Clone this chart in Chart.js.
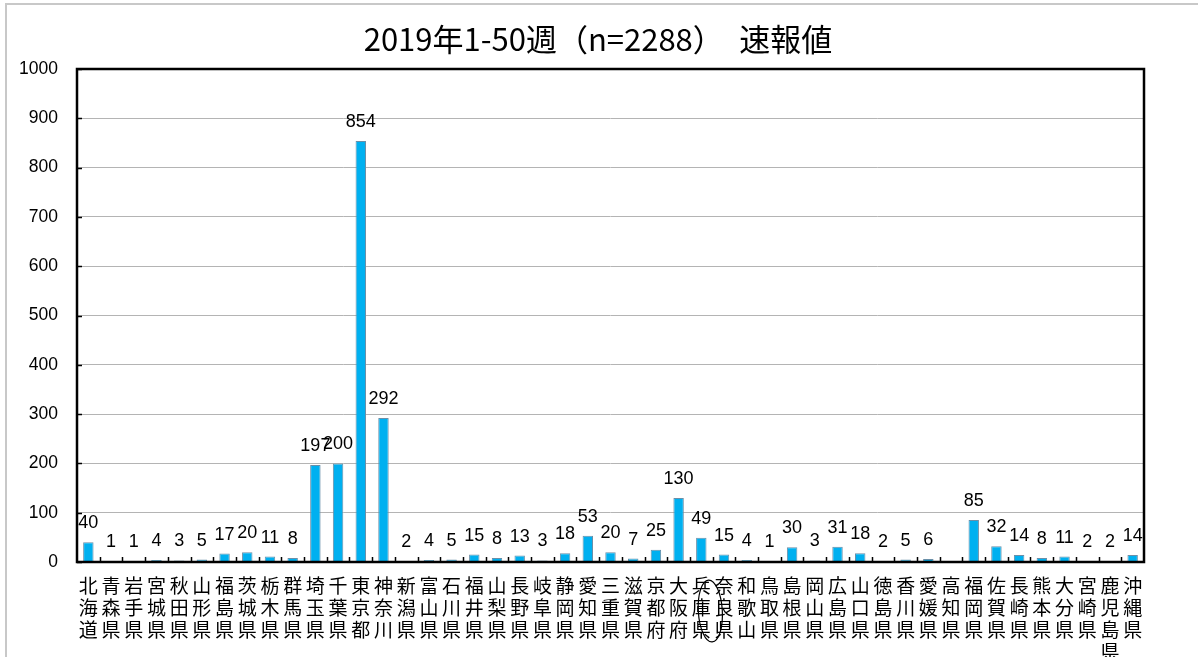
<!DOCTYPE html>
<html>
<head>
<meta charset="utf-8">
<script src="https://cdn.jsdelivr.net/npm/chart.js@4"></script>
<style>
  html, body { margin: 0; padding: 0; background: #fff; overflow: hidden; }
  #wrap { position: relative; width: 1198px; height: 657px; }
  #frame { position: absolute; left: 5px; top: 3px; width: 1300px; height: 800px;
           border-left: 2px solid #c8c8c8; border-top: 2px solid #c8c8c8; pointer-events: none; }
  canvas { position: absolute; left: 0; top: 0; }
</style>
</head>
<body>
<div id="wrap">
  <canvas id="c" width="1198" height="657"></canvas>
  <div id="frame"></div>
</div>
<script>
const chartTitle = '2019年1-50週（n=2288）　速報値';
const prefectures = [
  '北海道','青森県','岩手県','宮城県','秋田県','山形県','福島県','茨城県','栃木県','群馬県',
  '埼玉県','千葉県','東京都','神奈川','新潟県','富山県','石川県','福井県','山梨県','長野県',
  '岐阜県','静岡県','愛知県','三重県','滋賀県','京都府','大阪府','兵庫県','奈良県','和歌山',
  '鳥取県','島根県','岡山県','広島県','山口県','徳島県','香川県','愛媛県','高知県','福岡県',
  '佐賀県','長崎県','熊本県','大分県','宮崎県','鹿児島県','沖縄県'
];
const counts = [
  40, 1, 1, 4, 3, 5, 17, 20, 11, 8,
  197, 200, 854, 292, 2, 4, 5, 15, 8, 13,
  3, 18, 53, 20, 7, 25, 130, 49, 15, 4,
  1, 30, 3, 31, 18, 2, 5, 6, 0, 85,
  32, 14, 8, 11, 2, 2, 14
];
const yMin = 0, yMax = 1000, yStep = 100;
const circledPrefecture = '兵庫県';

const verticalLabels = prefectures.map(p => p.split(''));

const decor = {
  id: 'decor',
  afterDraw(chart) {
    const ctx = chart.ctx;
    const a = chart.chartArea;
    const x = chart.scales.x, y = chart.scales.y;
    ctx.save();
    // title
    ctx.fillStyle = '#000';
    ctx.font = '31px "Noto Sans CJK JP"';
    ctx.textAlign = 'center';
    ctx.textBaseline = 'middle';
    ctx.fillText(chartTitle, 598, 39);
    // data labels
    ctx.font = '18px "Liberation Sans"';
    ctx.textBaseline = 'middle';
    const meta = chart.getDatasetMeta(0);
    meta.data.forEach((bar, i) => {
      if (counts[i] === 0) return;
      ctx.fillText(String(counts[i]), bar.x, bar.y - 19);
    });
    // inward ticks
    ctx.strokeStyle = '#000';
    ctx.lineWidth = 1.5;
    ctx.beginPath();
    for (let v = yMin; v <= yMax; v += yStep) {
      const py = Math.round(y.getPixelForValue(v)) + 0.5;
      ctx.moveTo(a.left, py); ctx.lineTo(a.left + 5, py);
    }
    const step = (a.right - a.left) / prefectures.length;
    for (let i = 1; i < prefectures.length; i++) {
      const px = Math.round(a.left + i * step) + 0.5;
      ctx.moveTo(px, a.bottom); ctx.lineTo(px, a.bottom - 5);
    }
    ctx.stroke();
    // frame
    ctx.lineWidth = 2.5;
    ctx.strokeRect(a.left, a.top, a.right - a.left, a.bottom - a.top);
    // hand-drawn ellipse annotation
    const ci = prefectures.indexOf(circledPrefecture);
    const cx = x.getPixelForValue(ci) + 9;
    ctx.lineWidth = 1.2;
    ctx.beginPath();
    ctx.ellipse(cx, 611, 12, 31, -0.06, 0, Math.PI * 2);
    ctx.stroke();
    ctx.restore();
  }
};

new Chart(document.getElementById('c'), {
  type: 'bar',
  data: {
    labels: verticalLabels,
    datasets: [{
      data: counts,
      backgroundColor: '#00B0F0',
      borderColor: '#6a8fa8',
      borderWidth: 1,
      barPercentage: 0.46,
      categoryPercentage: 1.0
    }]
  },
  options: {
    responsive: false,
    animation: false,
    layout: { padding: { top: 69, right: 54, bottom: 0, left: 0 } },
    plugins: { legend: { display: false }, title: { display: false }, tooltip: { enabled: false } },
    scales: {
      x: {
        grid: { display: false, drawTicks: false },
        border: { display: false },
        ticks: {
          autoSkip: false, maxRotation: 0, minRotation: 0,
          color: '#000', padding: 13,
          font: { family: '"Noto Sans CJK JP"', size: 19, lineHeight: '22px' }
        },
        afterFit(s) { s.height = 95; }
      },
      y: {
        min: yMin, max: yMax,
        grid: { color: '#b4b4b4', lineWidth: 1, drawTicks: false },
        border: { display: false },
        ticks: {
          stepSize: yStep, color: '#000', padding: 19,
          font: { family: '"Liberation Sans"', size: 17.5 },
          callback: v => String(v)
        },
        afterFit(s) { s.width = 77; }
      }
    }
  },
  plugins: [decor]
});
</script>
</body>
</html>
